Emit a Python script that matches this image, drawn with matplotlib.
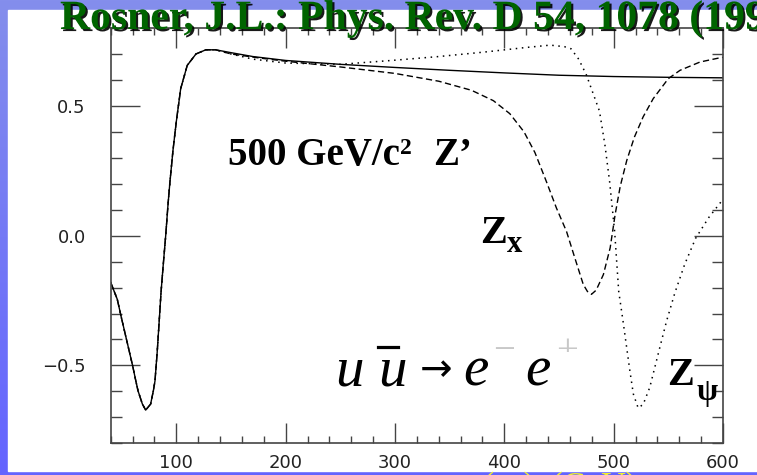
import numpy as np
import matplotlib
matplotlib.use('Agg')
import matplotlib.pyplot as plt
from matplotlib import patheffects
from matplotlib.patches import Rectangle
from matplotlib.lines import Line2D
from matplotlib.ticker import MultipleLocator
from matplotlib.transforms import Bbox, TransformedBbox

W, H = 757, 475

# Z-pole region, identical for all three models
low_mass = [40, 46, 50, 55, 60, 63, 65, 69, 72, 76.5, 79, 80.5, 82.5, 84.5, 86, 88,
            90.3, 92.4, 94.2, 97, 100, 104, 110, 118, 127, 136]
low_afb = [-0.18, -0.245, -0.32, -0.41, -0.50, -0.56, -0.598, -0.649, -0.672, -0.649,
           -0.598, -0.56, -0.45, -0.32, -0.22, -0.115, 0.0, 0.119, 0.208, 0.33, 0.439,
           0.566, 0.656, 0.70, 0.716, 0.716]

# standard model only (solid)
sm_mass = [150, 170, 200, 250, 300, 350, 400, 450, 500, 550, 600]
sm_afb = [0.705, 0.69, 0.675, 0.66, 0.648, 0.637, 0.627, 0.618, 0.613, 0.61, 0.608]

# Z_chi (dashed)
chi_mass = [150, 175, 200, 250, 300, 340, 370, 390, 405, 418, 428, 438.5, 447.7, 456.9,
            464.5, 472.2, 476, 479.7, 484, 490.6, 496.8, 501.3, 506, 512, 519, 527,
            536.2, 550, 560.7, 579, 595.8, 600]
chi_afb = [0.70, 0.685, 0.672, 0.65, 0.625, 0.595, 0.56, 0.52, 0.47, 0.40, 0.32, 0.208,
           0.106, 0.016, -0.086, -0.188, -0.215, -0.226, -0.21, -0.15, -0.047, 0.08,
           0.19, 0.29, 0.38, 0.458, 0.528, 0.605, 0.637, 0.669, 0.684, 0.687]

# Z_psi (dotted)
psi_mass = [150, 170, 200, 250, 300, 340, 381, 420, 442, 455, 461, 468, 475, 481, 487,
            492, 496.3, 500.9, 504.6, 508.6, 514.8, 518, 522.4, 527, 533, 542.2, 548.4,
            556, 565, 575, 587, 600]
psi_afb = [0.70, 0.68, 0.665, 0.66, 0.676, 0.69, 0.707, 0.725, 0.734, 0.728, 0.72, 0.68,
           0.62, 0.55, 0.48, 0.35, 0.208, 0.016, -0.214, -0.33, -0.52, -0.61, -0.664,
           -0.65, -0.585, -0.431, -0.329, -0.22, -0.11, -0.01, 0.07, 0.14]

x_major = [100, 200, 300, 400, 500, 600]
y_major = [-0.5, 0.0, 0.5]


def px(x, y):
    # pixel position (from top-left) -> figure fraction
    return x / W, 1 - y / H


fig = plt.figure(figsize=(W / 100, H / 100), dpi=100)

# slide background: blue gradient with white panel
bg = fig.add_axes([0, 0, 1, 1], zorder=-10)
top_c = np.array([132, 142, 236]) / 255
bot_c = np.array([100, 100, 255]) / 255
t = np.linspace(0, 1, 200)[:, None, None]
grad = top_c * (1 - t) + bot_c * t
bg.imshow(grad, extent=[0, 1, 0, 1], aspect='auto')
bg.add_patch(Rectangle(px(8, 471), 1, (471 - 10) / H, color='white'))
bg.set_xlim(0, 1)
bg.set_ylim(0, 1)
bg.axis('off')

ax = fig.add_axes([110.7 / W, 1 - 443.3 / H, (723 - 110.7) / W, (443.3 - 28) / H])
ax.set_facecolor('none')

ax.plot(low_mass + sm_mass, low_afb + sm_afb, color='black', lw=1.0)
ax.plot(low_mass + chi_mass, low_afb + chi_afb, color='black', lw=1.0,
        linestyle=(0, (4.5, 2.5)))
ax.plot(low_mass + psi_mass, low_afb + psi_afb, color='black', lw=1.1,
        linestyle=(0, (1, 3)))

ax.set_xlim(40, 600)
ax.set_ylim(-0.8, 0.8)
ax.set_xticks(x_major)
ax.set_yticks(y_major)
ax.set_yticklabels(['\u22120.5', '0.0', '0.5'])
ax.xaxis.set_minor_locator(MultipleLocator(20))
ax.yaxis.set_minor_locator(MultipleLocator(0.1))

tick_col = '#444444'
for s in ax.spines.values():
    s.set_color(tick_col)
    s.set_linewidth(1.2)
ax.tick_params(axis='x', which='major', direction='in', length=14.4, width=1,
               top=True, pad=8, labelsize=13, colors=tick_col, labelcolor='#222222')
ax.tick_params(axis='x', which='minor', direction='in', length=5, width=1,
               top=True, colors=tick_col)
ax.tick_params(axis='y', which='major', direction='in', length=21, width=1,
               right=True, pad=18, labelsize=13, colors=tick_col, labelcolor='#222222')
ax.tick_params(axis='y', which='minor', direction='in', length=8, width=1,
               right=True, colors=tick_col)

serif = 'Liberation Serif'

# title with drop shadow, runs off the right edge
fig.text(*px(60, 29), 'Rosner, J.L.: Phys. Rev. D 54, 1078 (1996)', family=serif,
         fontsize=30, fontweight='bold', color='#006400', va='baseline', ha='left',
         path_effects=[patheffects.withSimplePatchShadow(offset=(1.5, -1.5),
                                                         shadow_rgbFace='black', alpha=0.9)])

# annotations inside the frame
fig.text(*px(228, 165), '500 GeV/c', family=serif, fontsize=28, fontweight='bold',
         va='baseline')
fig.text(*px(400, 154), '2', family=serif, fontsize=17, fontweight='bold', va='baseline')
fig.text(*px(433, 165), 'Z\u2019', family=serif, fontsize=28, fontweight='bold',
         va='baseline')

fig.text(*px(480, 243), 'Z', family=serif, fontsize=29, fontweight='bold', va='baseline')
fig.text(*px(507, 252), 'x', family=serif, fontsize=22, fontweight='bold', va='baseline')

fig.text(*px(667, 385), 'Z', family=serif, fontsize=29, fontweight='bold', va='baseline')
fig.text(*px(697, 400), '\u03c8', family=serif, fontsize=22, fontweight='bold',
         va='baseline')

# u ubar -> e- e+
fig.text(*px(335, 385), 'u', family=serif, style='italic', fontsize=41, va='baseline')
fig.text(*px(378, 385), 'u', family=serif, style='italic', fontsize=41, va='baseline')
fig.add_artist(Line2D([378 / W, 398 / W], [1 - 347 / H] * 2, color='black', lw=2.3))
fig.text(*px(436, 370), '\u2192', family='DejaVu Sans', fontsize=28, va='center',
         ha='center')
fig.text(*px(463, 385), 'e', family=serif, style='italic', fontsize=41, va='baseline')
fig.text(*px(525, 385), 'e', family=serif, style='italic', fontsize=41, va='baseline')
fig.text(*px(504, 361), '\u2212', family=serif, fontsize=28, va='baseline', ha='center',
         color='#c8c8c8')
plus = fig.text(*px(567, 361), '+', family=serif, fontsize=28, va='baseline', ha='center',
                color='#c8c8c8')
plus.set_clip_box(TransformedBbox(Bbox.from_extents(0, 1 - 352 / H, 1, 1), fig.transFigure))

# axis caption peeking out below the panel
fig.text(*px(457, 495), 'm(ee)  (GeV)', family=serif, fontsize=24,
         color='#f0f030', va='baseline', ha='left')

fig.savefig('out.png', dpi=100)
